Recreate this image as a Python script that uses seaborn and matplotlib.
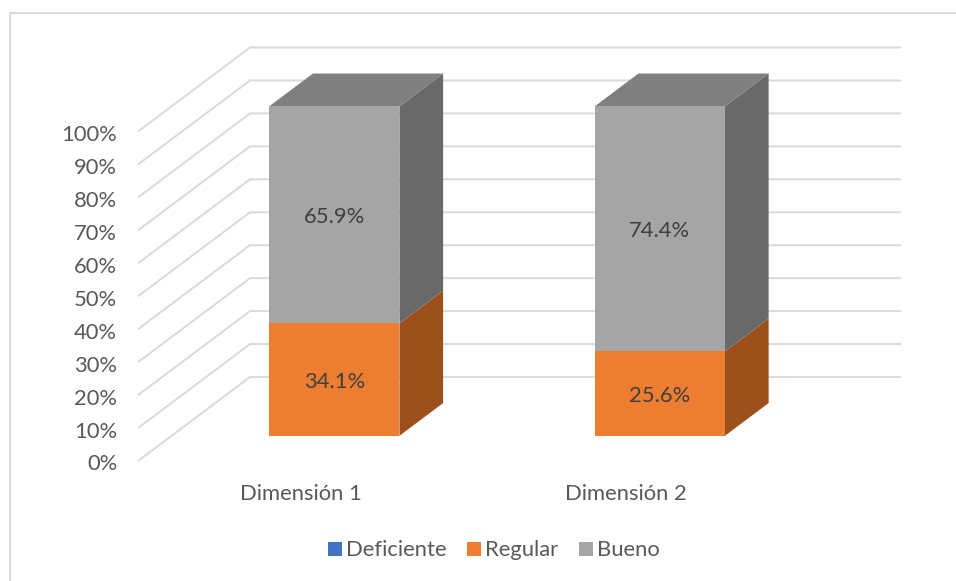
import matplotlib
matplotlib.use("Agg")
import matplotlib.pyplot as plt
from matplotlib.lines import Line2D
from matplotlib.patches import Patch, Polygon
from matplotlib.transforms import Affine2D
import numpy as np
import seaborn as sns

categories = ["Dimensión 1", "Dimensión 2"]
series_names = ["Deficiente", "Regular", "Bueno"]
deficiente = [0.0, 0.0]
regular = [34.1, 25.6]
bueno = [65.9, 74.4]
tick_values = list(range(0, 101, 10))

front_colors = ["#4472C4", "#ED7D31", "#A5A5A5"]
side_colors = ["#2F5597", "#9C501C", "#696969"]
top_colors = ["#335AA0", "#B8601F", "#7F7F7F"]
GRID = "#D9D9D9"
TEXT = "#595959"
FS = 15.8

W, H = 956, 581
sns.set_theme(style="white")
plt.rcParams["font.family"] = ["Lato", "DejaVu Sans"]

fig = plt.figure(figsize=(W / 100, H / 100), dpi=100, facecolor="white")
left, right, top, bottom = 138, 789, 131.5, 461
ax = fig.add_axes([left / W, 1 - bottom / H, (right - left) / W, (bottom - top) / H])
ax.patch.set_alpha(0)

# Oblique projection: full depth moves a point 112 px right and 84 px up
unit_x = (right - left) / 2
unit_y = (bottom - top) / 100
DEPTH_X = 112 / unit_x
DEPTH_Y = 84 / unit_y
BAR_FRONT, BAR_BACK = 0.30, 0.69


def project(x, y, d):
    return (x + d * DEPTH_X, y + d * DEPTH_Y)


stack = np.zeros(len(categories))
all_values = [deficiente, regular, bueno]
front_shift = Affine2D().translate(BAR_FRONT * DEPTH_X, BAR_FRONT * DEPTH_Y)

for i, (name, values) in enumerate(zip(series_names, all_values)):
    n_before = len(ax.patches)
    sns.barplot(x=categories, y=values, bottom=stack.copy(), color=front_colors[i],
                saturation=1, width=0.4, ax=ax, legend=False, errorbar=None)
    for j, bar in enumerate(list(ax.patches)[n_before:]):
        x0, w = bar.get_x(), bar.get_width()
        y0, h = bar.get_y(), bar.get_height()
        bar.set_transform(front_shift + ax.transData)
        bar.set_clip_on(False)
        bar.set_zorder(5 + i)
        bar.set_linewidth(0)
        if h <= 0:
            continue
        x1, y1 = x0 + w, y0 + h
        side = [project(x1, y0, BAR_FRONT), project(x1, y0, BAR_BACK),
                project(x1, y1, BAR_BACK), project(x1, y1, BAR_FRONT)]
        ax.add_patch(Polygon(side, closed=True, fc=side_colors[i], lw=0,
                             clip_on=False, zorder=4 + i))
        if i == len(series_names) - 1:
            roof = [project(x0, y1, BAR_FRONT), project(x1, y1, BAR_FRONT),
                    project(x1, y1, BAR_BACK), project(x0, y1, BAR_BACK)]
            ax.add_patch(Polygon(roof, closed=True, fc=top_colors[i], lw=0,
                                 clip_on=False, zorder=4 + i))
        if values[j] > 0:
            cx, cy = project(x0 + w / 2, y0 + h / 2, BAR_FRONT)
            ax.annotate(f"{values[j]:.1f}%", (cx, cy), xytext=(0, -1.5),
                        textcoords="offset points", ha="center", va="center",
                        fontsize=FS, color="#404040", zorder=20,
                        annotation_clip=False)
    stack += np.array(values)

ax.set_xlim(-0.5, 1.5)
ax.set_ylim(0, 100)

# Wall gridlines: side wall then back wall
for v in tick_values:
    pts = [project(-0.5, v, 0), project(-0.5, v, 1), project(1.5, v, 1)]
    xs, ys = zip(*pts)
    ax.plot(xs, ys, color=GRID, lw=1.4, clip_on=False, zorder=1,
            solid_joinstyle="miter", solid_capstyle="butt")

ax.set_yticks(tick_values)
ax.set_yticklabels([f"{v}%" for v in tick_values], fontsize=FS, color=TEXT)
ax.set_xticks(range(len(categories)))
ax.set_xticklabels(categories, fontsize=FS, color=TEXT)
ax.tick_params(axis="y", length=0, pad=15)
ax.tick_params(axis="x", length=0, pad=16.5)
nudge = Affine2D().translate(0, -1.5)
for label in ax.get_yticklabels():
    label.set_transform(label.get_transform() + nudge)
ax.set_xlabel("")
ax.set_ylabel("")
sns.despine(ax=ax, left=True, bottom=True)
ax.grid(False)

handles = [Patch(fc=c, lw=0, label=n) for c, n in zip(front_colors, series_names)]
fig.legend(handles=handles, loc="center", bbox_to_anchor=(494 / W, 1 - 550.5 / H),
           ncols=3, frameon=False, fontsize=FS, labelcolor=TEXT, handlelength=0.64,
           handleheight=0.64, handletextpad=0.18, columnspacing=0.95,
           borderpad=0, borderaxespad=0)

# Chart-area frame, visible on its left and top edges
fig.add_artist(Line2D([9.5 / W, 9.5 / W, 1], [0, 1 - 13 / H, 1 - 13 / H],
                      transform=fig.transFigure, color=GRID, lw=1.4))

fig.savefig("out.png", dpi=100, facecolor="white")
